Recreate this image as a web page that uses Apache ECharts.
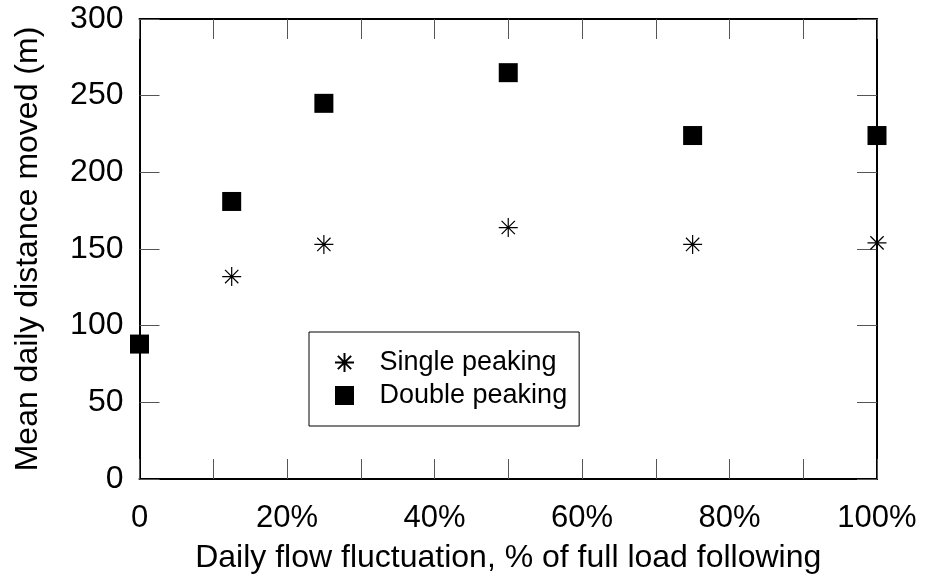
<!DOCTYPE html>
<html>
<head>
<meta charset="utf-8">
<script src="https://cdn.jsdelivr.net/npm/echarts@6/dist/echarts.min.js"></script>
<style>html,body{margin:0;padding:0;background:#fff}#c{width:927px;height:582px}</style>
</head>
<body>
<div id="c"></div>
<script>
const fluctuation = [0, 12.5, 25, 50, 75, 100];
const singlePeaking = [null, 132, 153, 164, 153, 154];
const doublePeaking = [88, 181, 245, 265, 224, 224];
const xTickLabels = {0: '0', 20: '20%', 40: '40%', 60: '60%', 80: '80%', 100: '100%'};
const yTickLabels = [0, 50, 100, 150, 200, 250, 300];

const FONT = 'Liberation Sans, Arial, sans-serif';
const starPath = 'path://M0,-10L0,10M-10,0L10,0M-7,-7L7,7M-7,7L7,-7';
const squarePath = 'path://M0,0L10,0L10,10L0,10Z';

function pairs(vals) {
  const out = [];
  vals.forEach((v, i) => { if (v !== null) out.push([fluctuation[i], v]); });
  return out;
}

const chart = echarts.init(document.getElementById('c'), null, {renderer: 'canvas'});
const tickStyle = {show: true, inside: true, length: 20, lineStyle: {color: '#555', width: 1}};
const lineStyle = {show: true, onZero: false, lineStyle: {color: '#000', width: 2}};
chart.setOption({
  animation: false,
  backgroundColor: '#fff',
  grid: {left: 139.5, right: 50, top: 19, bottom: 103},
  legend: {
    orient: 'vertical', left: 309, top: 332,
    padding: [17, 12, 17, 25],
    itemGap: 6, itemWidth: 60, itemHeight: 19,
    borderColor: '#000', borderWidth: 1,
    textStyle: {fontFamily: FONT, fontSize: 27, color: '#000'},
    data: ['Single peaking', 'Double peaking']
  },
  xAxis: [{
    type: 'value', min: 0, max: 100, interval: 10,
    name: 'Daily flow fluctuation, % of full load following',
    nameLocation: 'middle', nameGap: 63,
    nameTextStyle: {fontFamily: FONT, fontSize: 32, color: '#000'},
    axisLine: lineStyle,
    axisTick: tickStyle,
    axisLabel: {fontFamily: FONT, fontSize: 31, color: '#000', margin: 24,
      formatter: v => (xTickLabels[v] !== undefined ? xTickLabels[v] : '')},
    splitLine: {show: false}
  }, {
    type: 'value', position: 'top', min: 0, max: 100, interval: 10,
    axisLine: lineStyle,
    axisTick: tickStyle, axisLabel: {show: false}, splitLine: {show: false}
  }],
  yAxis: [{
    type: 'value', min: 0, max: 300, interval: 50,
    name: 'Mean daily distance moved (m)',
    nameLocation: 'middle', nameGap: 95,
    nameTextStyle: {fontFamily: FONT, fontSize: 32, color: '#000'},
    axisLine: lineStyle,
    axisTick: tickStyle,
    axisLabel: {fontFamily: FONT, fontSize: 32, color: '#000', margin: 16,
      formatter: v => (yTickLabels.indexOf(v) >= 0 ? String(v) : '')},
    splitLine: {show: false}
  }, {
    type: 'value', position: 'right', min: 0, max: 300, interval: 50,
    axisLine: lineStyle,
    axisTick: tickStyle, axisLabel: {show: false}, splitLine: {show: false}
  }],
  series: [{
    name: 'Single peaking', type: 'scatter', clip: false,
    symbol: starPath, symbolSize: 19,
    itemStyle: {color: 'rgba(0,0,0,0)', borderColor: '#000', borderWidth: 1.2, opacity: 1},
    data: pairs(singlePeaking), z: 5
  }, {
    name: 'Double peaking', type: 'scatter', clip: false,
    symbol: squarePath, symbolSize: 19,
    itemStyle: {color: '#000', opacity: 1},
    data: pairs(doublePeaking), z: 5
  }]
});
</script>
</body>
</html>
